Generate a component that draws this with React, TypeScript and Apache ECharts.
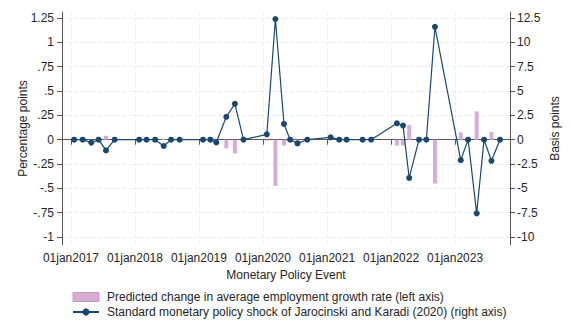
import React, { useEffect, useRef } from 'react';
import * as echarts from 'echarts';

// ECB monetary policy meeting dates used as events
const eventDates = [
  '2017-01-19', '2017-03-09', '2017-04-27', '2017-06-08', '2017-07-20', '2017-09-07',
  '2018-01-25', '2018-03-08', '2018-04-26', '2018-06-14', '2018-07-26', '2018-09-13',
  '2019-01-24', '2019-03-07', '2019-04-10', '2019-06-06', '2019-07-25', '2019-09-12',
  '2020-01-23', '2020-03-12', '2020-04-30', '2020-06-04', '2020-07-16', '2020-09-10',
  '2021-01-21', '2021-03-11', '2021-04-22', '2021-07-22', '2021-09-09',
  '2022-02-03', '2022-03-10', '2022-04-14', '2022-06-09', '2022-07-21', '2022-09-08',
  '2023-02-02', '2023-03-16', '2023-05-04', '2023-06-15', '2023-07-27', '2023-09-14',
];

// Standard monetary policy shock (basis points, right axis)
const shockBp = [
  0, 0, -0.3, 0, -1.1, 0,
  0, 0, 0, -0.65, 0, 0,
  0, 0, -0.28, 2.35, 3.69, 0,
  0.55, 12.4, 1.62, 0, -0.38, 0,
  0.24, 0, 0, 0, 0,
  1.68, 1.45, -3.93, 0, 0, 11.6,
  -2.1, 0, -7.57, 0, -2.17, 0,
];

// Predicted change in average employment growth rate (percentage points, left axis)
const employmentPp = [
  0, 0, 0, 0, 0.04, 0,
  0, 0, 0, 0.01, 0, 0,
  0, 0, 0, -0.09, -0.14, 0,
  -0.01, -0.475, -0.06, 0, -0.03, 0,
  0, 0, 0, 0, 0,
  -0.06, -0.06, 0.15, 0, 0, -0.45,
  0.075, 0, 0.29, 0, 0.08, 0,
];

const yearTicks = ['2017-01-01', '2018-01-01', '2019-01-01', '2020-01-01', '2021-01-01', '2022-01-01', '2023-01-01'];
const leftTicks = [-1, -0.75, -0.5, -0.25, 0, 0.25, 0.5, 0.75, 1, 1.25];
const rightTicks = [-10, -7.5, -5, -2.5, 0, 2.5, 5, 7.5, 10, 12.5];

const xRange = ['2016-11-11', '2023-11-10'];
const leftRange = [-1.082, 1.312];
const rightRange = [-10.82, 13.12];

const barName = 'Predicted change in average employment growth rate (left axis)';
const lineName = 'Standard monetary policy shock of Jarocinski and Karadi (2020) (right axis)';

const FONT = '"Liberation Sans", Arial, sans-serif';
const FS = 12;
const NAVY = '#1a476f';
const PINK = '#d9acd8';
const AXIS = '#555';
const TEXT = '#262626';
const GRID = '#e9eef2';

const toMs = (d: string) => Date.parse(d + 'T00:00:00Z');
const stataNum = (v: number) => String(v).replace(/^(-?)0\./, '$1.');

export default function App() {
  const ref = useRef<HTMLDivElement>(null);

  useEffect(() => {
    if (!ref.current) return;
    const chart = echarts.init(ref.current, undefined, { renderer: 'svg' });
    const eventMs = eventDates.map(toMs);
    const yearMs = yearTicks.map(toMs);

    const axisCommon = {
      axisLine: { show: true, lineStyle: { color: AXIS, width: 1 } },
      nameTextStyle: { fontFamily: FONT, fontSize: FS, color: TEXT },
      nameMoveOverlap: false,
    };

    chart.setOption({
      animation: false,
      backgroundColor: '#fff',
      textStyle: { fontFamily: FONT },
      grid: { left: 62, right: 61, top: 12, bottom: 82, containLabel: false },
      legend: {
        orient: 'vertical',
        left: 72,
        top: 291,
        padding: 0,
        itemWidth: 26,
        itemHeight: 9,
        itemGap: 3,
        textStyle: { fontFamily: FONT, fontSize: FS, color: TEXT, padding: [0, 0, 0, 3] },
        data: [
          { name: barName, icon: 'rect', itemStyle: { color: PINK, borderColor: '#c69ac5', borderWidth: 1 } },
          { name: lineName },
        ],
      },
      xAxis: {
        type: 'value',
        min: toMs(xRange[0]),
        max: toMs(xRange[1]),
        name: 'Monetary Policy Event',
        nameLocation: 'middle',
        nameGap: 24,
        ...axisCommon,
        axisTick: { show: true, length: 5, customValues: yearMs, lineStyle: { color: AXIS } },
        axisLabel: {
          customValues: yearMs,
          margin: 7,
          fontFamily: FONT,
          fontSize: FS,
          color: TEXT,
          formatter: (v: number) => `01jan${new Date(v).getUTCFullYear()}`,
        },
        splitLine: { show: true, lineStyle: { color: GRID, type: [4, 2] } },
      },
      yAxis: [
        {
          type: 'value',
          position: 'left',
          min: leftRange[0],
          max: leftRange[1],
          name: 'Percentage points',
          nameLocation: 'middle',
          nameGap: 33,
          ...axisCommon,
          axisTick: { show: true, length: 5, customValues: leftTicks, lineStyle: { color: AXIS } },
          axisLabel: {
            customValues: leftTicks,
            margin: 8,
            fontFamily: FONT,
            fontSize: FS,
            color: TEXT,
            formatter: (v: number) => stataNum(v),
          },
          splitLine: { show: true, lineStyle: { color: GRID, type: [4, 2] } },
        },
        {
          type: 'value',
          position: 'right',
          min: rightRange[0],
          max: rightRange[1],
          name: 'Basis points',
          nameLocation: 'middle',
          nameGap: 39,
          nameRotate: 90,
          ...axisCommon,
          axisTick: { show: true, length: 5, customValues: rightTicks, lineStyle: { color: AXIS } },
          axisLabel: {
            customValues: rightTicks,
            margin: 7,
            fontFamily: FONT,
            fontSize: FS,
            color: TEXT,
            formatter: (v: number) => stataNum(v),
          },
          splitLine: { show: false },
        },
      ],
      series: [
        {
          name: barName,
          type: 'bar',
          yAxisIndex: 0,
          barWidth: 4,
          itemStyle: { color: PINK, borderWidth: 0 },
          data: eventMs.map((t, i) => [t, employmentPp[i]]),
          z: 1,
        },
        {
          name: lineName,
          type: 'line',
          yAxisIndex: 1,
          symbol: 'circle',
          symbolSize: 6,
          itemStyle: { color: NAVY },
          lineStyle: { color: NAVY, width: 1.2 },
          data: eventMs.map((t, i) => [t, shockBp[i]]),
          z: 3,
        },
      ],
    });

    return () => chart.dispose();
  }, []);

  return (
    <div
      ref={ref}
      style={{ position: 'fixed', left: 0, top: 0, width: 571, height: 327, background: '#fff' }}
    />
  );
}
